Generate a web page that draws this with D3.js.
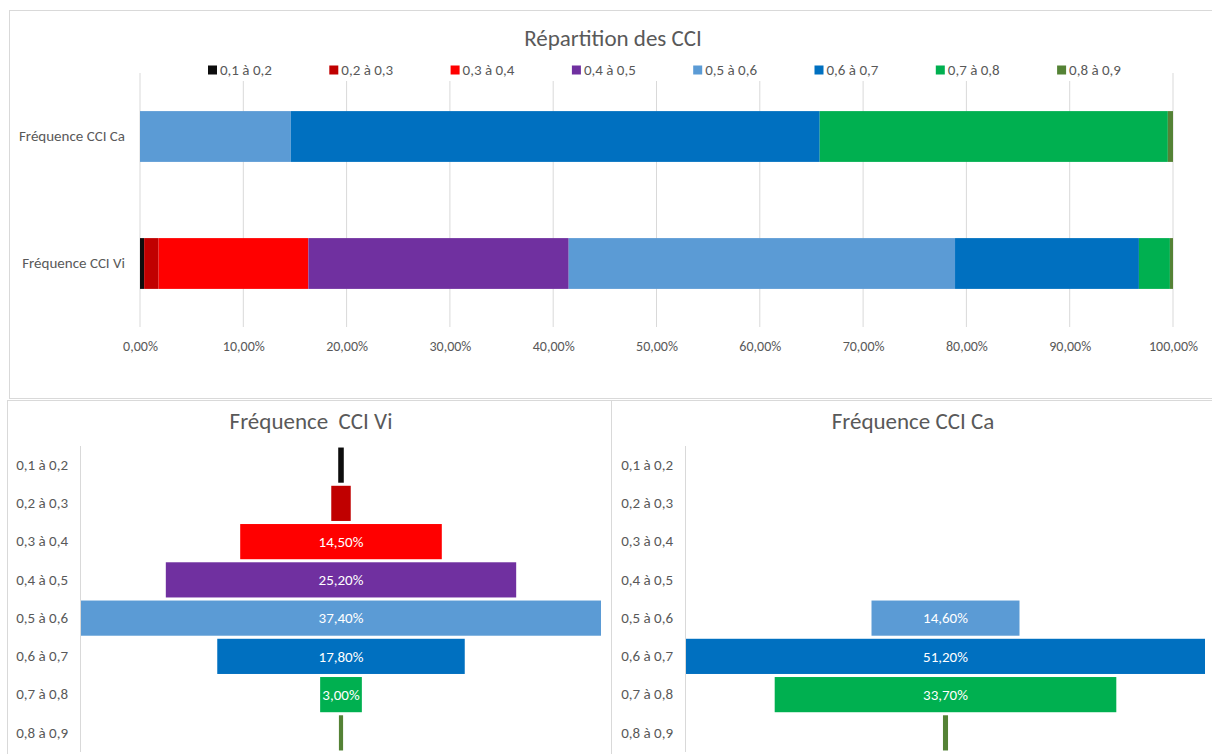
<!DOCTYPE html>
<html>
<head>
<meta charset="utf-8">
<script src="https://cdn.jsdelivr.net/npm/d3@7"></script>
<style>
    body { margin: 0; background: #fff; }
    text { font-family: Carlito, Calibri, Lato, sans-serif; fill: #595959; }
</style>
</head>
<body>
<script>
// classes de CCI
var classes = ["0,1 à 0,2", "0,2 à 0,3", "0,3 à 0,4", "0,4 à 0,5", "0,5 à 0,6", "0,6 à 0,7", "0,7 à 0,8", "0,8 à 0,9"];
var classColors = ["#0d0d0d", "#c00000", "#ff0000", "#7030a0", "#5b9bd5", "#0070c0", "#00b050", "#548235"];

// fréquences en %
var freqVi = [0.4, 1.4, 14.5, 25.2, 37.4, 17.8, 3.0, 0.3];
var freqCa = [0, 0, 0, 0, 14.6, 51.2, 33.7, 0.5];

var seriesNames = ["Fréquence CCI Ca", "Fréquence CCI Vi"];
var pctTicks = [0, 10, 20, 30, 40, 50, 60, 70, 80, 90, 100];


var fr = d3.formatLocale({decimal: ",", thousands: " ", grouping: [3], currency: ["", "€"]});
var fmtPct = function (v) { return fr.format(".2f")(v) + "%"; };

var svg = d3.select("body").append("svg")
    .attr("width", 1212)
    .attr("height", 754);


function drawFrames() {
    var frames = [[9.5, 10.5, 1215, 388], [7.5, 400.5, 604, 360], [611.5, 400.5, 610, 360]];
    frames.forEach(function (f) {
        svg.append("rect")
            .attr("x", f[0]).attr("y", f[1])
            .attr("width", f[2]).attr("height", f[3])
            .attr("fill", "none")
            .attr("stroke", "#d9d9d9");
    });
}


function drawStacked() {
    var x = d3.scaleLinear().domain([0, 100]).range([140, 1173]);
    var y = d3.scaleBand().domain(seriesNames).range([73, 327])
        .paddingInner(0.6).paddingOuter(0.3);

    svg.append("g").selectAll("line")
        .data(pctTicks)
        .join("line")
        .attr("x1", function (d) { return x(d); })
        .attr("x2", function (d) { return x(d); })
        .attr("y1", 73).attr("y2", 327)
        .attr("stroke", "#d9d9d9");

    var rows = {"Fréquence CCI Ca": freqCa, "Fréquence CCI Vi": freqVi};

    seriesNames.forEach(function (name) {
        var vals = rows[name];
        var start = 0;
        vals.forEach(function (v, i) {
            if (v > 0) {
                svg.append("rect")
                    .attr("x", x(start))
                    .attr("y", y(name))
                    .attr("width", x(start + v) - x(start))
                    .attr("height", y.bandwidth())
                    .attr("fill", classColors[i]);
            }
            start += v;
        });
    });

    var xAxis = svg.append("g")
        .attr("transform", "translate(0,327)")
        .call(d3.axisBottom(x).tickValues(pctTicks).tickSize(0).tickPadding(14).tickFormat(fmtPct));
    xAxis.select(".domain").remove();
    xAxis.selectAll("text").style("font-size", "14px").attr("fill", "#595959");

    var yAxis = svg.append("g")
        .attr("transform", "translate(140,0)")
        .call(d3.axisLeft(y).tickSize(0).tickPadding(15));
    yAxis.select(".domain").remove();
    yAxis.selectAll("text").style("font-size", "15px").attr("fill", "#595959");

    // légende
    svg.append("rect")
        .attr("x", 195).attr("y", 58)
        .attr("width", 940).attr("height", 23)
        .attr("fill", "#fff");

    var leg = svg.append("g").selectAll("g")
        .data(classes)
        .join("g")
        .attr("transform", function (d, i) { return "translate(" + (208 + i * 121.3) + ",70)"; });
    leg.append("rect")
        .attr("x", 0).attr("y", -4.5)
        .attr("width", 9).attr("height", 9)
        .attr("fill", function (d, i) { return classColors[i]; });
    leg.append("text")
        .attr("x", 12).attr("dy", "0.35em")
        .style("font-size", "15px")
        .text(function (d) { return d; });

    svg.append("text")
        .attr("x", 613).attr("y", 38).attr("dy", "0.35em")
        .attr("text-anchor", "middle")
        .style("font-size", "23px")
        .text("Répartition des CCI");
}


function drawFunnel(vals, left, right, axisX, title, titleX) {
    var half = d3.max(vals) / 2;
    var x = d3.scaleLinear().domain([-half, half]).range([left, right]);
    var y = d3.scaleBand().domain(classes).range([446, 752])
        .paddingInner(0.08).paddingOuter(0.04);

    var data = classes.map(function (c, i) { return {cls: c, v: vals[i], color: classColors[i]}; })
        .filter(function (d) { return d.v > 0; });

    svg.append("g").selectAll("rect")
        .data(data)
        .join("rect")
        .attr("x", function (d) { return x(-d.v / 2); })
        .attr("y", function (d) { return y(d.cls); })
        .attr("width", function (d) { return x(d.v / 2) - x(-d.v / 2); })
        .attr("height", y.bandwidth())
        .attr("fill", function (d) { return d.color; });

    svg.append("g").selectAll("text")
        .data(data.filter(function (d) { return d.v >= 2; }))
        .join("text")
        .attr("x", x(0))
        .attr("y", function (d) { return y(d.cls) + y.bandwidth() / 2; })
        .attr("dy", "0.35em")
        .attr("text-anchor", "middle")
        .style("font-size", "15px")
        .style("fill", "#fff")
        .text(function (d) { return fmtPct(d.v); });

    var yAxis = svg.append("g")
        .attr("transform", "translate(" + axisX + ",0)")
        .call(d3.axisLeft(y).tickSize(0).tickPadding(12));
    yAxis.select(".domain").attr("stroke", "#d9d9d9").attr("d", "M0.5,446V752");
    yAxis.selectAll("text").style("font-size", "15px").attr("fill", "#595959");

    svg.append("text")
        .attr("x", titleX).attr("y", 421).attr("dy", "0.35em")
        .attr("text-anchor", "middle")
        .style("font-size", "23px")
        .style("white-space", "pre")
        .text(title);
}


drawFrames();
drawStacked();
drawFunnel(freqVi, 81, 601, 80, "Fréquence  CCI Vi", 311);
drawFunnel(freqCa, 686, 1205, 685, "Fréquence CCI Ca", 913);
</script>
</body>
</html>
